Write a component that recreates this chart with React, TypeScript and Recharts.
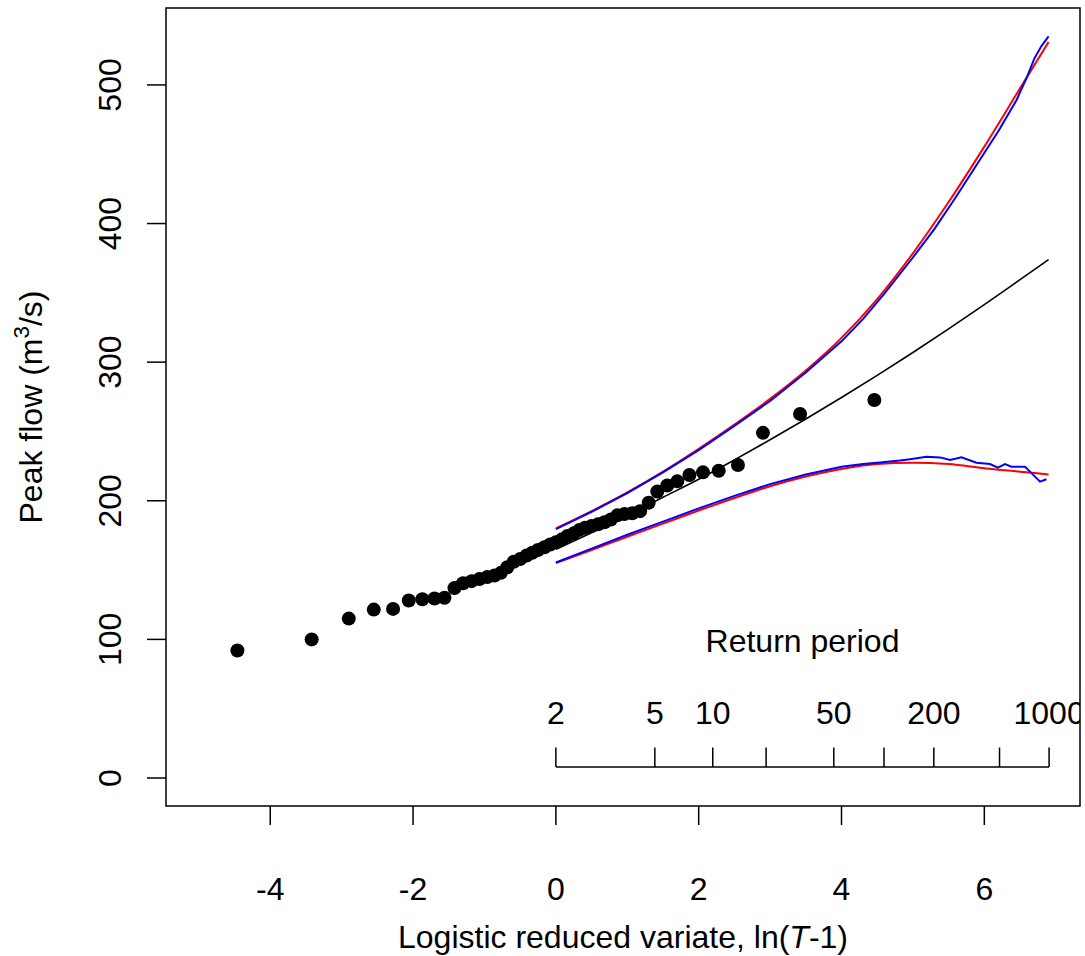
import {
  ComposedChart,
  Line,
  Scatter,
  XAxis,
  YAxis,
  ReferenceLine,
  ReferenceArea,
} from 'recharts';

// observed annual peaks, plotted at logistic reduced variate ln(T-1)
const obsX = [
  -4.46, -3.42, -2.9, -2.55, -2.28, -2.06, -1.87, -1.7, -1.56, -1.42, -1.3, -1.18, -1.07, -0.96,
  -0.86, -0.77, -0.68, -0.59, -0.5, -0.41, -0.33, -0.25, -0.16, -0.08, 0, 0.08, 0.16, 0.25, 0.33,
  0.41, 0.5, 0.59, 0.68, 0.77, 0.86, 0.96, 1.07, 1.18, 1.3, 1.42, 1.56, 1.7, 1.87, 2.06, 2.28,
  2.55, 2.9, 3.42, 4.46,
];
const obsQ = [
  92, 100, 115, 121.5, 122, 128, 129, 129.5, 130, 137, 140.5, 142, 143.5, 145, 146, 148, 152,
  156, 158, 160.5, 162.5, 164.5, 166.5, 168.5, 170, 172, 174.5, 176.5, 179, 180.5, 181.8, 183,
  184.5, 186.5, 189.5, 190.5, 191, 192.5, 198.6, 206.6, 211, 214, 218.6, 220.5, 221.7, 225.8,
  249, 262.6, 272.7,
];

// fitted quantile curve and analytical confidence limits
const curveX = [0, 0.5, 1, 1.5, 2, 2.5, 3, 3.5, 4, 4.5, 5, 5.5, 6, 6.5, 6.9];
const fitQ = [165, 177, 189.5, 202.5, 215.5, 229.5, 244, 259, 274.5, 290.5, 307, 324, 341.5, 359.5, 374];
const upperRedQ = [180, 192.5, 206, 221, 237.5, 255, 273.5, 294, 317.5, 345.5, 378.5, 415.5, 455.5, 497.5, 531];
const lowerRedQ = [155, 164.5, 174, 183.5, 193, 202, 210.5, 217.5, 223, 226.5, 227.5, 226.5, 223.5, 221, 219];

// simulated confidence limits
const upperBlueX = [0, 0.5, 1, 1.5, 2, 2.5, 3, 3.5, 4, 4.3, 4.6, 5, 5.3, 5.6, 5.9, 6.2, 6.45, 6.6, 6.7, 6.8, 6.9];
const upperBlueQ = [179.5, 192, 205.5, 220.5, 236.5, 254, 272, 292.5, 315, 331, 349.5, 375.5, 396, 419, 443, 467, 489, 506, 519, 528, 535];
const lowerBlueX = [
  0, 0.5, 1, 1.5, 2, 2.5, 3, 3.5, 4, 4.3, 4.5, 4.82, 4.96, 5.19, 5.38, 5.52, 5.68, 5.89, 6.08,
  6.19, 6.29, 6.38, 6.57, 6.64, 6.78, 6.87,
];
const lowerBlueQ = [
  155.5, 165.5, 175.5, 185, 194.5, 203.5, 212, 219, 224.5, 226.5, 227.5, 229, 230, 231.8, 231.3,
  229.4, 231.3, 227.5, 226.5, 223.9, 226.5, 224.6, 224.6, 221, 213.8, 215.5,
];

// return period scale
const returnPeriodX = [0, 1.386, 2.197, 2.944, 3.892, 4.595, 5.293, 6.213, 6.907];
const returnPeriodLabels = ['2', '5', '10', '', '50', '', '200', '', '1000'];
const rpAxisQ = 8;
const rpTickTopQ = 22;
const rpLabelQ = 47.5;
const rpTitleQ = 99;

const xTicks = [-4, -2, 0, 2, 4, 6];
const yTicks = [0, 100, 200, 300, 400, 500];
const xMin = -5.46;
const xMax = 7.34;
const yMin = -20.2;
const yMax = 555.5;

const FONT = '"Liberation Sans", Arial, sans-serif';
const FS = 32;

const toPts = (xs: number[], qs: number[]) => xs.map((x, i) => ({ x, q: qs[i] }));

const obsData = toPts(obsX, obsQ);
const fitData = toPts(curveX, fitQ);
const upperRedData = toPts(curveX, upperRedQ);
const lowerRedData = toPts(curveX, lowerRedQ);
const upperBlueData = toPts(upperBlueX, upperBlueQ);
const lowerBlueData = toPts(lowerBlueX, lowerBlueQ);
const rpLabelData = returnPeriodX
  .map((x, i) => ({ x, q: rpLabelQ, label: returnPeriodLabels[i] }))
  .filter((d) => d.label !== '');
const rpTitleData = [{ x: (returnPeriodX[0] + returnPeriodX[8]) / 2, q: rpTitleQ, label: 'Return period' }];

const XTick = ({ x, y, payload }: any) => (
  <text x={x} y={y} textAnchor='middle' fontSize={FS} fontFamily={FONT} fill='#000'>
    {payload.value}
  </text>
);

const YTick = ({ x, y, payload }: any) => (
  <text
    x={x}
    y={y}
    transform={`rotate(-90, ${x}, ${y})`}
    textAnchor='middle'
    fontSize={FS}
    fontFamily={FONT}
    fill='#000'
  >
    {payload.value}
  </text>
);

const TextMark = (props: any) => (
  <text
    x={props.cx}
    y={props.cy}
    dy='0.36em'
    textAnchor='middle'
    fontSize={FS}
    fontFamily={FONT}
    fill='#000'
  >
    {props.payload.label}
  </text>
);

const Dot = (props: any) => <circle cx={props.cx} cy={props.cy} r={7} fill='#000' />;

const renderYTitle = (props: any) => {
  const vb = props.viewBox || { x: 0, y: 8, width: 166, height: 798 };
  const cy = vb.y + vb.height / 2;
  return (
    <text
      x={42}
      y={cy}
      transform={`rotate(-90, 42, ${cy})`}
      textAnchor='middle'
      fontSize={FS}
      fontFamily={FONT}
      fill='#000'
    >
      Peak flow (m
      <tspan fontSize={FS * 0.7} dy={-13}>
        3
      </tspan>
      <tspan dy={13}>/s)</tspan>
    </text>
  );
};

const renderXTitle = (props: any) => {
  const vb = props.viewBox || { x: 166, y: 806, width: 914, height: 150 };
  const cx = vb.x + vb.width / 2;
  return (
    <text x={cx} y={948} textAnchor='middle' fontSize={FS} fontFamily={FONT} fill='#000'>
      Logistic reduced variate, ln(
      <tspan fontStyle='italic'>T</tspan>
      -1)
    </text>
  );
};

export default function App() {
  return (
    <div style={{ position: 'absolute', left: 0, top: 0, background: '#fff' }}>
      <ComposedChart width={1085} height={956} margin={{ top: 8, right: 5, left: 0, bottom: 0 }}>
        <XAxis
          type='number'
          dataKey='x'
          domain={[xMin, xMax]}
          ticks={xTicks}
          allowDataOverflow
          height={150}
          axisLine={false}
          tickLine={{ stroke: '#000', strokeWidth: 1.5 }}
          tickSize={19}
          tickMargin={75}
          tick={<XTick />}
          label={{ content: renderXTitle }}
        />
        <YAxis
          type='number'
          dataKey='q'
          domain={[yMin, yMax]}
          ticks={yTicks}
          allowDataOverflow
          width={166}
          axisLine={false}
          tickLine={{ stroke: '#000', strokeWidth: 1.5 }}
          tickSize={19}
          tickMargin={26}
          tick={<YTick />}
          label={{ content: renderYTitle }}
        />
        <ReferenceArea
          x1={xMin}
          x2={xMax}
          y1={yMin}
          y2={yMax}
          fill='none'
          fillOpacity={0}
          stroke='#000'
          strokeWidth={1.5}
          ifOverflow='visible'
        />
        <ReferenceLine
          segment={[
            { x: returnPeriodX[0], y: rpAxisQ },
            { x: returnPeriodX[8], y: rpAxisQ },
          ]}
          stroke='#000'
          strokeWidth={1.5}
        />
        {returnPeriodX.map((x) => (
          <ReferenceLine
            key={x}
            segment={[
              { x, y: rpAxisQ },
              { x, y: rpTickTopQ },
            ]}
            stroke='#000'
            strokeWidth={1.5}
          />
        ))}
        <Line
          data={upperRedData}
          dataKey='q'
          type='monotone'
          stroke='#ff0000'
          strokeWidth={2}
          dot={false}
          isAnimationActive={false}
        />
        <Line
          data={lowerRedData}
          dataKey='q'
          type='monotone'
          stroke='#ff0000'
          strokeWidth={2}
          dot={false}
          isAnimationActive={false}
        />
        <Line
          data={upperBlueData}
          dataKey='q'
          type='linear'
          stroke='#0000ff'
          strokeWidth={2}
          dot={false}
          isAnimationActive={false}
        />
        <Line
          data={lowerBlueData}
          dataKey='q'
          type='linear'
          stroke='#0000ff'
          strokeWidth={2}
          dot={false}
          isAnimationActive={false}
        />
        <Line
          data={fitData}
          dataKey='q'
          type='monotone'
          stroke='#000'
          strokeWidth={1.6}
          dot={false}
          isAnimationActive={false}
        />
        <Scatter data={obsData} shape={<Dot />} isAnimationActive={false} />
        <Scatter data={rpLabelData} shape={<TextMark />} isAnimationActive={false} />
        <Scatter data={rpTitleData} shape={<TextMark />} isAnimationActive={false} />
      </ComposedChart>
    </div>
  );
}
